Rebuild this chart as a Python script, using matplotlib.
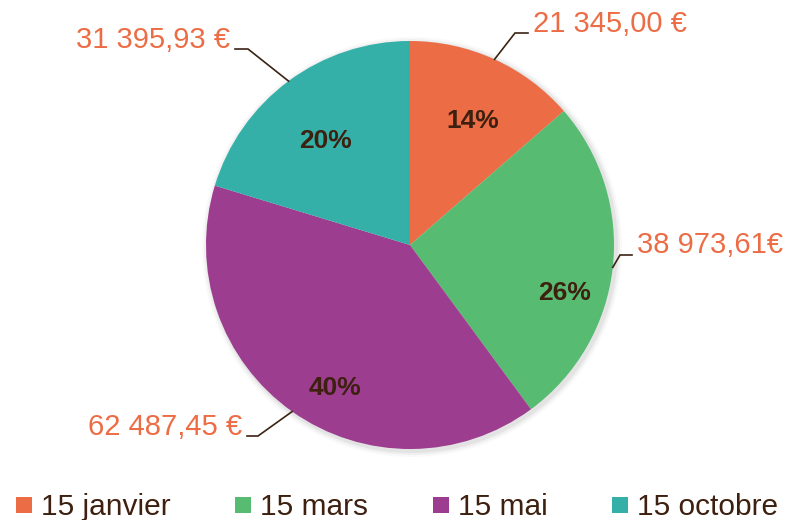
import matplotlib
matplotlib.use("Agg")
import matplotlib.pyplot as plt
from matplotlib.lines import Line2D
from matplotlib.patches import Circle
import numpy as np

# ---- data ----
categories = ["15 janvier", "15 mars", "15 mai", "15 octobre"]
amount_labels = ["21 345,00 €", "38 973,61€", "62 487,45 €", "31 395,93 €"]
shares = [13.6, 26.3, 39.8, 20.3]          # slice sizes
pct_labels = ["14%", "26%", "40%", "20%"]
colors = ["#EC6D45", "#57BB72", "#9D3D8F", "#34B0A8"]

W, H = 788, 520
plt.rcParams['font.family'] = ['Liberation Sans', 'DejaVu Sans']
fig = plt.figure(figsize=(W / 100, H / 100), dpi=100)
ax = fig.add_axes([0, 0, 1, 1])

def P(x, y):
    """pixel (top-left origin) -> data coords"""
    return x, H - y

cx, cy = P(410, 245)
R = 204

# soft shadow
for k, a in [(6, 0.025), (4, 0.035), (2, 0.05)]:
    ax.add_patch(Circle((cx + 2, cy - 2), R + k, color="#000000", alpha=a, lw=0, zorder=0))

wedges, _ = ax.pie(shares, colors=colors, startangle=90, counterclock=False,
                   center=(cx, cy), radius=R, wedgeprops=dict(linewidth=0),
                   frame=True)
for w in wedges:
    w.set_zorder(2)

ax.set_xlim(0, W)
ax.set_ylim(0, H)
ax.set_aspect('equal')
ax.axis('off')

# percent labels (layout positions in pixels)
pct_pos = [(473, 121), (565, 293), (335, 388), (326, 141)]
text_dark = "#3D2010"
for lab, (px, py) in zip(pct_labels, pct_pos):
    ax.text(*P(px, py), lab, ha='center', va='center', fontsize=19,
            fontweight='bold', color=text_dark, zorder=5)

# leader lines + amount labels
elbows = [(515, 33), (620, 255), (258, 436), (248, 49)]
ends = [(528, 33), (632, 255), (247, 436), (235, 49)]
text_pos = [(533, 24), (637, 245), (242, 427), (230, 40)]
aligns = ['left', 'left', 'right', 'right']
for w, lab, el, en, tp, al in zip(wedges, amount_labels, elbows, ends, text_pos, aligns):
    th = np.deg2rad((w.theta1 + w.theta2) / 2)
    ax0 = cx + R * np.cos(th)
    ay0 = cy + R * np.sin(th)
    ex, ey = P(*el)
    nx, ny = P(*en)
    ax.plot([ax0, ex, nx], [ay0, ey, ny], color="#3B2314", lw=1.2, zorder=4,
            solid_joinstyle='miter')
    ax.text(*P(*tp), lab, ha=al, va='center', fontsize=21, color="#EC6D45", zorder=5)

handles = [Line2D([], [], marker='s', linestyle='none', markersize=11.5,
                  markerfacecolor=c, markeredgewidth=0) for c in colors]
leg = ax.legend(handles, categories, loc='center', bbox_to_anchor=(397 / W, 13 / H),
                ncol=4, frameon=False, fontsize=21.5, handlelength=0.55,
                handletextpad=0.3, columnspacing=2.15, borderpad=0, borderaxespad=0)
for t in leg.get_texts():
    t.set_color(text_dark)

fig.savefig("out.png", dpi=100)
